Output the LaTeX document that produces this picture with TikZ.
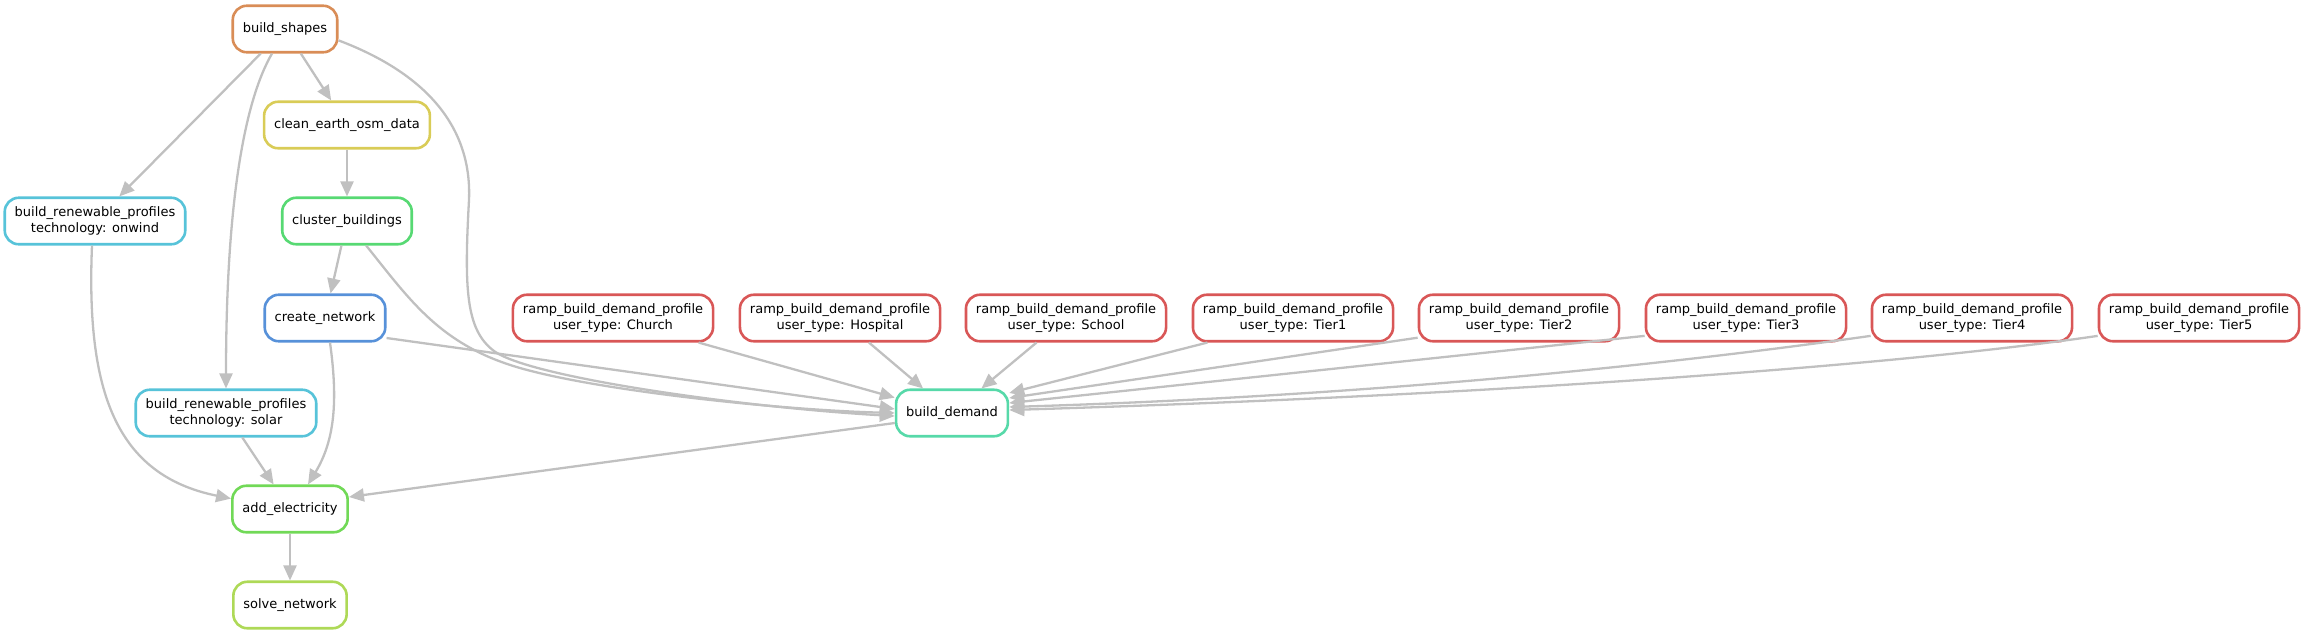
\documentclass[tikz,border=0pt]{standalone}
\usepackage{fontspec}
\setmainfont{DejaVu Sans}
\usetikzlibrary{arrows.meta,calc}
\definecolor{edgegray}{RGB}{192,192,192}
\definecolor{cOrange}{RGB}{217,141,87}
\definecolor{cYellow}{RGB}{217,204,87}
\definecolor{cGreen}{RGB}{87,217,115}
\definecolor{cBlue}{RGB}{87,145,217}
\definecolor{cCyan}{RGB}{87,195,217}
\definecolor{cAdd}{RGB}{113,217,87}
\definecolor{cSolve}{RGB}{174,217,87}
\definecolor{cTeal}{RGB}{87,217,169}
\definecolor{cRed}{RGB}{217,87,87}
\begin{document}
\begin{tikzpicture}[x=1pt,y=-1pt,
  job/.style={draw=#1, line width=2.6pt, rounded corners=14pt, fill=white,
    minimum height=46.5pt, inner xsep=10pt, inner ysep=2pt, align=center,
    font=\fontsize{13pt}{16pt}\selectfont},
  dep/.style={draw=edgegray, line width=2.3pt, -{Triangle[length=15pt,width=13pt]}}]
\useasboundingbox (0,0) rectangle (2306,635);
% nodes
\node[job=cOrange] (bs) at (285,29) {build\_shapes};
\node[job=cYellow] (clean) at (347,125) {clean\_earth\_osm\_data};
\node[job=cCyan] (onwind) at (95,221) {build\_renewable\_profiles\\technology: onwind};
\node[job=cGreen] (cluster) at (347,221) {cluster\_buildings};
\node[job=cBlue] (create) at (325,318) {create\_network};
\node[job=cCyan] (solar) at (226,413) {build\_renewable\_profiles\\technology: solar};
\node[job=cAdd] (adde) at (290,509) {add\_electricity};
\node[job=cSolve] (solve) at (290,605) {solve\_network};
\node[job=cTeal] (demand) at (952,413) {build\_demand};
\node[job=cRed] (church) at (613,318) {ramp\_build\_demand\_profile\\user\_type: Church};
\node[job=cRed] (hosp) at (840,318) {ramp\_build\_demand\_profile\\user\_type: Hospital};
\node[job=cRed] (school) at (1066,318) {ramp\_build\_demand\_profile\\user\_type: School};
\node[job=cRed] (tier1) at (1293,318) {ramp\_build\_demand\_profile\\user\_type: Tier1};
\node[job=cRed] (tier2) at (1519,318) {ramp\_build\_demand\_profile\\user\_type: Tier2};
\node[job=cRed] (tier3) at (1746,318) {ramp\_build\_demand\_profile\\user\_type: Tier3};
\node[job=cRed] (tier4) at (1972,318) {ramp\_build\_demand\_profile\\user\_type: Tier4};
\node[job=cRed] (tier5) at (2199,318) {ramp\_build\_demand\_profile\\user\_type: Tier5};
% edges
\draw[dep] (bs) -- (onwind);
\draw[dep] (bs) -- (clean);
\draw[dep] ([xshift=-13pt]bs.south) .. controls (245,100) and (226,200) .. (solar.north);
\draw[dep] (bs.-12) .. controls (430,75) and (472,130) .. (469,200)
  .. controls (464,290) and (466,330) .. (494,351)
  .. controls (530,378) and (750,408) .. ([yshift=-3pt]demand.west);
\draw[dep] (clean) -- (cluster);
\draw[dep] (cluster) -- (create);
\draw[dep] (cluster.-52) .. controls (410,300) and (440,345) .. (520,368)
  .. controls (600,391) and (780,410) .. (demand.west);
\draw[dep] (create.-18) -- ([yshift=4pt]demand.west);
\draw[dep] ([xshift=5pt]create.south) .. controls (338,400) and (335,440) .. ([xshift=18pt]adde.north);
\draw[dep] ([xshift=-3pt]onwind.south) .. controls (86,390) and (115,475) .. (adde.170);
\draw[dep] (solar) -- (adde);
\draw[dep] ([yshift=-10pt]demand.west) -- ([yshift=12pt]adde.east);
\draw[dep] (adde) -- (solve);
\draw[dep] (church.-16) -- (demand.165);
\draw[dep] (hosp) -- (demand);
\draw[dep] (school) -- (demand);
\draw[dep] (tier1.196) -- ([yshift=20pt]demand.east);
\draw[dep] (tier2.191) -- ([yshift=15pt]demand.east);
\draw[dep] (tier3.190) -- ([yshift=10pt]demand.east);
\draw[dep] (tier4.190) .. controls (1700,360) and (1400,395) .. ([yshift=6pt]demand.east);
\draw[dep] (tier5.190) .. controls (1900,365) and (1500,395) .. ([yshift=3pt]demand.east);
\end{tikzpicture}
\end{document}
